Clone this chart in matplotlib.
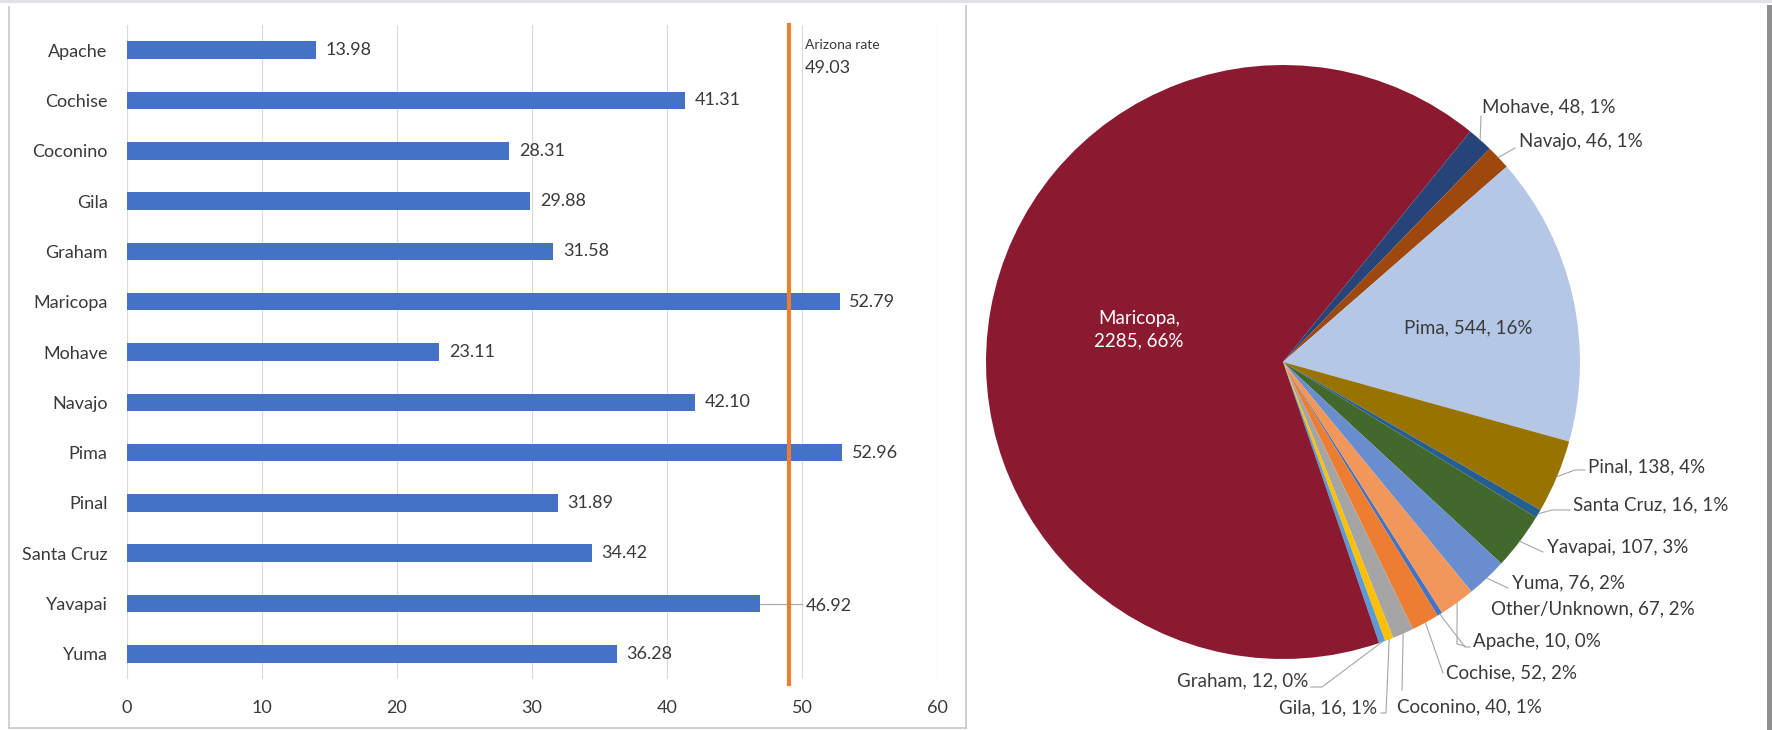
"""Arizona county rates (bar) and case counts by county (pie), side by side."""

import matplotlib

matplotlib.use("Agg")
import matplotlib.pyplot as plt
from matplotlib.lines import Line2D
from matplotlib.patches import Rectangle
import numpy as np

plt.rcParams["font.family"] = ["Lato", "DejaVu Sans"]

# --- bar chart data ---
COUNTIES = ["Apache", "Cochise", "Coconino", "Gila", "Graham", "Maricopa", "Mohave",
            "Navajo", "Pima", "Pinal", "Santa Cruz", "Yavapai", "Yuma"]
RATES = [13.98, 41.31, 28.31, 29.88, 31.58, 52.79, 23.11, 42.10, 52.96, 31.89,
         34.42, 46.92, 36.28]
ARIZONA_RATE = 49.03
X_TICKS = [0, 10, 20, 30, 40, 50, 60]

# --- pie chart data ---
PIE_NAMES = ["Apache", "Cochise", "Coconino", "Gila", "Graham", "Maricopa", "Mohave",
             "Navajo", "Pima", "Pinal", "Santa Cruz", "Yavapai", "Yuma", "Other/Unknown"]
PIE_COUNTS = [10, 52, 40, 16, 12, 2285, 48, 46, 544, 138, 16, 107, 76, 67]
PIE_PCTS = [0, 2, 1, 1, 0, 66, 1, 1, 16, 4, 1, 3, 2, 2]
PIE_COLORS = ["#4472C4", "#ED7D31", "#A5A5A5", "#FFC000", "#5B9BD5", "#8B1A31",
              "#264478", "#9E480E", "#B4C7E7", "#997300", "#255E91", "#43682B",
              "#698ED0", "#F1975A"]

W, H = 1772, 730
TXT = "#3a3a3a"

# pie geometry in figure pixels (y down)
CX, CY, R = 1283, 362, 297

# label placement in figure pixels: (x, y, ha, leader path after the wedge edge)
PIE_LAYOUT = {
    "Mohave": (1482, 107, "left", [(1481, 116)]),
    "Navajo": (1519, 141, "left", [(1515, 148)]),
    "Pinal": (1588, 467, "left", [(1575, 470), (1585, 470)]),
    "Santa Cruz": (1573, 505, "left", [(1552, 510), (1570, 510)]),
    "Yavapai": (1547, 547, "left", [(1543, 552)]),
    "Yuma": (1512, 583, "left", [(1508, 588)]),
    "Other/Unknown": (1491, 609, "left", [(1457, 644), (1465, 646)]),
    "Apache": (1473, 641, "left", [(1465, 647), (1470, 647)]),
    "Cochise": (1446, 673, "left", [(1443, 673)]),
    "Coconino": (1397, 707, "left", [(1402, 690)]),
    "Gila": (1377, 708, "right", [(1386, 713), (1381, 713)]),
    "Graham": (1308, 681, "right", [(1322, 687), (1311, 687)]),
}
INSIDE_LAYOUT = {
    "Maricopa": (1139, 330, "white"),
    "Pima": (1468, 328, TXT),
}


def to_pie(x, y):
    return (x - CX) / R, (CY - y) / R


def main() -> None:
    fig = plt.figure(figsize=(W / 100, H / 100), dpi=100)

    # screenshot frame
    fig.add_artist(Rectangle((0, 1 - 2.5 / H), 1, 2.5 / H, transform=fig.transFigure,
                             color="#e1e1e6", lw=0))
    fig.add_artist(Rectangle((1767 / W, 0), 5 / W, 1 - 5 / H, transform=fig.transFigure,
                             color="#8f8f8f", lw=0))
    for xs, ys in [((9, 9), (7, 728)), ((966, 966), (6, 728)), ((9, 966), (728, 728))]:
        fig.add_artist(Line2D([x / W for x in xs], [1 - y / H for y in ys],
                              transform=fig.transFigure, color="#c8c8c8", lw=1.2))

    # --- bar chart ---
    ax = fig.add_axes([127 / W, (H - 679) / H, 810 / W, 654 / H])
    y = np.arange(len(COUNTIES))
    ax.barh(y, RATES, height=0.35, color="#4472C4", zorder=2)
    ax.set_xlim(0, 60)
    ax.set_ylim(len(COUNTIES) - 0.5, -0.5)
    ax.set_xticks(X_TICKS)
    ax.set_yticks(y)
    ax.set_yticklabels(COUNTIES)
    ax.tick_params(axis="both", length=0, labelsize=13, labelcolor=TXT)
    ax.tick_params(axis="y", pad=14)
    ax.tick_params(axis="x", pad=15)
    for s in ax.spines.values():
        s.set_visible(False)
    ax.grid(axis="x", color="#d9d9d9", lw=0.8)
    ax.set_axisbelow(True)

    ax.axvline(ARIZONA_RATE, ymin=-0.008, ymax=1, color="#ED7D31", lw=3, zorder=3,
               clip_on=False)
    ax.text(50.2, -0.1, "Arizona rate", fontsize=10, color=TXT, va="center")
    ax.text(50.2, 0.36, f"{ARIZONA_RATE:.2f}", fontsize=13, color=TXT, va="center")

    for i, v in enumerate(RATES):
        if COUNTIES[i] == "Yavapai":
            ax.plot([v, 50.0], [i, i], color="#a6a6a6", lw=0.8, zorder=1)
            ax.text(50.3, i + 0.05, f"{v:.2f}", fontsize=13, color=TXT, va="center")
        else:
            ax.annotate(f"{v:.2f}", xy=(v, i), xytext=(7, 0), textcoords="offset points",
                        ha="left", va="center", fontsize=13, color=TXT)

    # --- pie chart ---
    x0, x1 = 968, 1766
    ax2 = fig.add_axes([x0 / W, 0, (x1 - x0) / W, 1])
    wedges, _ = ax2.pie(PIE_COUNTS, colors=PIE_COLORS, startangle=302.4,
                        counterclock=False, radius=1, wedgeprops=dict(linewidth=0))
    ax2.set_xlim((x0 - CX) / R, (x1 - CX) / R)
    ax2.set_ylim((CY - H) / R, CY / R)
    ax2.set_aspect("auto")
    ax2.axis("off")

    for name, count, pct, w in zip(PIE_NAMES, PIE_COUNTS, PIE_PCTS, wedges):
        label = f"{name}, {count}, {pct}%"
        if name in INSIDE_LAYOUT:
            tx, ty, col = INSIDE_LAYOUT[name]
            if name == "Maricopa":
                label = f"{name},\n{count}, {pct}%"
            ax2.text(*to_pie(tx, ty), label, ha="center", va="center", fontsize=13.5,
                     color=col, linespacing=1.4)
            continue
        tx, ty, ha, path = PIE_LAYOUT[name]
        mid = np.deg2rad((w.theta1 + w.theta2) / 2)
        pts = [(np.cos(mid), np.sin(mid))] + [to_pie(px, py) for px, py in path]
        xs, ys = zip(*pts)
        ax2.plot(xs, ys, color="#a6a6a6", lw=0.8)
        ax2.text(*to_pie(tx, ty), label, ha=ha, va="center", fontsize=13.5, color=TXT)

    fig.savefig("out.png", dpi=100)


if __name__ == "__main__":
    main()
